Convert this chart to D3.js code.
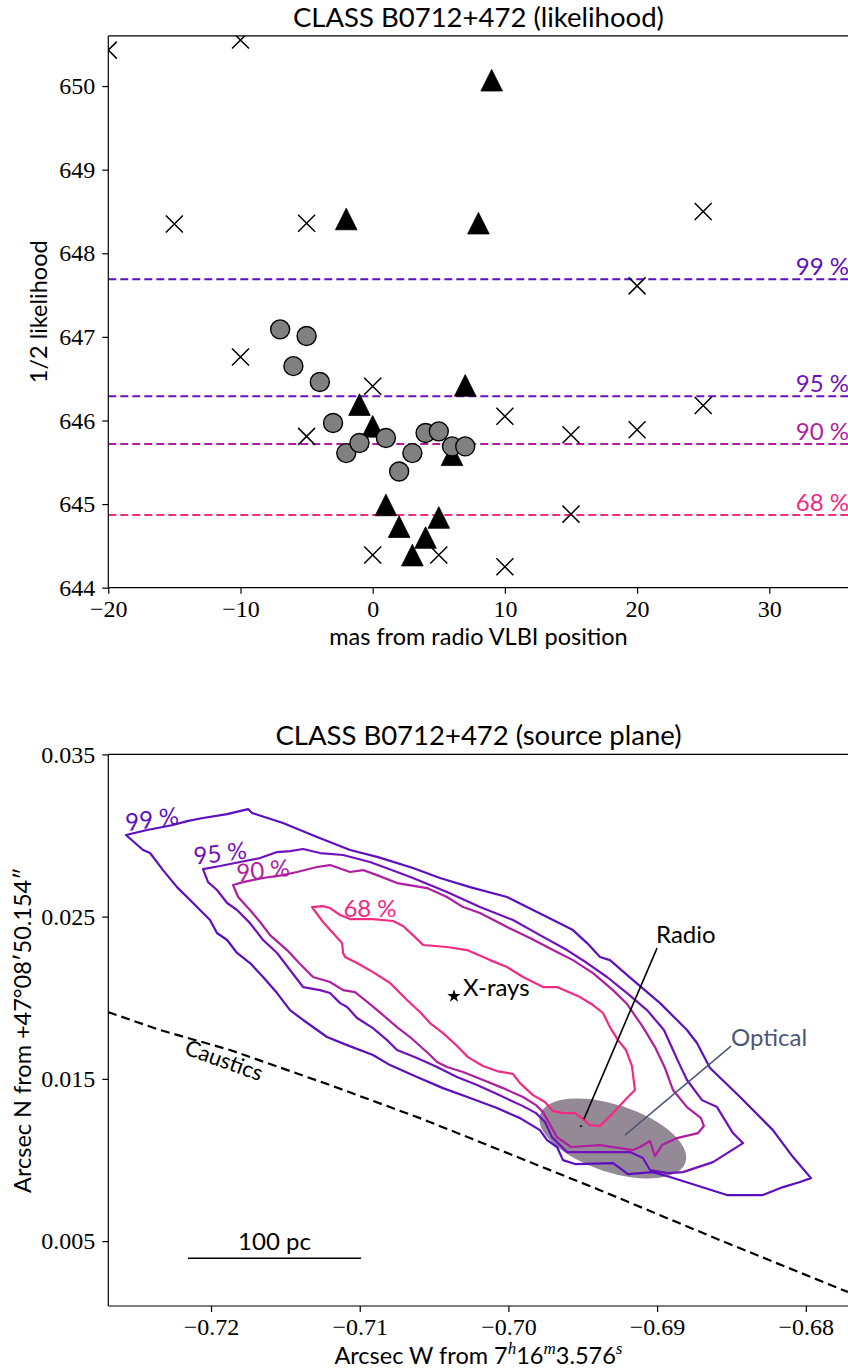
<!DOCTYPE html>
<html>
<head>
<meta charset="utf-8" />
<title>CLASS B0712+472</title>
<script src="https://cdn.jsdelivr.net/npm/d3@7"></script>
<style>
  body { margin: 0; background: #fff; }
  svg { display: block; }
  .sans { font-family: Lato, "Noto Sans", sans-serif; }
  .tick line { stroke: #000; stroke-width: 1.2px; }
</style>
</head>
<body>
<svg id="fig" width="848" height="1372"></svg>
<script>
// ---------- top panel: likelihood vs offset ----------
var crossPts = [[-20, 650.43], [-10, 650.55], [-15, 648.35], [-5, 648.36], [25, 648.50], [20, 647.61],
    [-10, 646.76], [0, 646.41], [-5, 645.81], [0, 644.39], [10, 646.05], [15, 645.83], [20, 645.89],
    [25, 646.18], [15, 644.88], [5, 644.39], [10, 644.25]];
var trianglePts = [[-2, 648.41], [9, 650.07], [8, 648.36], [-1, 646.19], [0, 645.93], [1, 644.99],
    [2, 644.73], [3, 644.39], [4, 644.60], [5, 644.84], [6, 645.59], [7, 646.42]];
var circlePts = [[-7, 647.09], [-5, 647.01], [-6, 646.65], [-4, 646.46], [-3, 645.97], [-2, 645.61],
    [-1, 645.73], [1, 645.79], [2, 645.39], [3, 645.61], [4, 645.85], [5, 645.87], [6, 645.69], [7, 645.69]];
var levelNames = ["68 %", "90 %", "95 %", "99 %"];
var levelLike = [644.87, 645.72, 646.29, 647.69];
var levelColors = ["#f22a82", "#b01ea0", "#7011bd", "#5b0fbf"];
var xTicks1 = [-20, -10, 0, 10, 20, 30];
var yTicks1 = [644, 645, 646, 647, 648, 649, 650];

// ---------- bottom panel: source plane contours ----------
var contour99 = [[-0.72572,0.03003],[-0.72430,0.03034],[-0.72256,0.03065],[-0.72161,0.03089],[-0.72054,0.03108],[-0.71892,0.03132],[-0.71751,0.03163],[-0.71724,0.03139],[-0.71516,0.03077],[-0.71287,0.02991],[-0.71065,0.02911],[-0.70877,0.02867],[-0.70642,0.02800],[-0.70460,0.02738],[-0.70258,0.02682],[-0.70009,0.02621],[-0.69875,0.02559],[-0.69673,0.02467],[-0.69566,0.02417],[-0.69471,0.02337],[-0.69384,0.02251],[-0.69317,0.02232],[-0.69162,0.02109],[-0.68980,0.01967],[-0.68880,0.01875],[-0.68799,0.01801],[-0.68732,0.01721],[-0.68644,0.01567],[-0.68442,0.01388],[-0.68221,0.01184],[-0.68086,0.01018],[-0.67965,0.00888],[-0.68039,0.00864],[-0.68153,0.00833],[-0.68288,0.00784],[-0.68530,0.00784],[-0.68913,0.00895],[-0.69028,0.00925],[-0.69196,0.00913],[-0.69250,0.00950],[-0.69297,0.00981],[-0.69552,0.00975],[-0.69633,0.00999],[-0.69673,0.01080],[-0.69740,0.01123],[-0.69788,0.01184],[-0.69922,0.01258],[-0.70077,0.01320],[-0.70258,0.01382],[-0.70440,0.01443],[-0.70615,0.01511],[-0.70796,0.01585],[-0.70911,0.01647],[-0.71085,0.01708],[-0.71220,0.01758],[-0.71381,0.01863],[-0.71469,0.01924],[-0.71556,0.02029],[-0.71650,0.02128],[-0.71738,0.02214],[-0.71825,0.02276],[-0.71892,0.02356],[-0.71960,0.02399],[-0.72007,0.02479],[-0.72141,0.02602],[-0.72229,0.02682],[-0.72323,0.02787],[-0.72410,0.02892],[-0.72457,0.02911]];
var contour95 = [[-0.72054,0.02793],[-0.71939,0.02812],[-0.71805,0.02837],[-0.71670,0.02861],[-0.71556,0.02898],[-0.71469,0.02904],[-0.71381,0.02917],[-0.71267,0.02892],[-0.71112,0.02880],[-0.70931,0.02837],[-0.70749,0.02775],[-0.70642,0.02738],[-0.70413,0.02652],[-0.70191,0.02559],[-0.69969,0.02479],[-0.69788,0.02386],[-0.69606,0.02294],[-0.69471,0.02214],[-0.69337,0.02128],[-0.69202,0.02029],[-0.69068,0.01924],[-0.68954,0.01801],[-0.68893,0.01678],[-0.68853,0.01597],[-0.68799,0.01493],[-0.68698,0.01369],[-0.68597,0.01326],[-0.68490,0.01166],[-0.68422,0.01104],[-0.68624,0.00987],[-0.68826,0.00925],[-0.68927,0.00919],[-0.69048,0.00938],[-0.69095,0.01012],[-0.69182,0.01049],[-0.69606,0.01049],[-0.69707,0.01141],[-0.69754,0.01234],[-0.69814,0.01289],[-0.69902,0.01332],[-0.70077,0.01406],[-0.70211,0.01462],[-0.70346,0.01511],[-0.70480,0.01573],[-0.70615,0.01628],[-0.70749,0.01678],[-0.70816,0.01739],[-0.70911,0.01813],[-0.71018,0.01875],[-0.71085,0.01943],[-0.71132,0.01967],[-0.71200,0.02029],[-0.71267,0.02047],[-0.71381,0.02066],[-0.71469,0.02171],[-0.71556,0.02276],[-0.71650,0.02356],[-0.71738,0.02460],[-0.71825,0.02541],[-0.71892,0.02584],[-0.71960,0.02664],[-0.72020,0.02713]];
var contour90 = [[-0.71852,0.02695],[-0.71785,0.02713],[-0.71650,0.02738],[-0.71516,0.02756],[-0.71422,0.02775],[-0.71287,0.02806],[-0.71200,0.02818],[-0.71065,0.02775],[-0.70978,0.02787],[-0.70884,0.02756],[-0.70749,0.02707],[-0.70547,0.02676],[-0.70413,0.02621],[-0.70305,0.02559],[-0.70191,0.02522],[-0.70009,0.02436],[-0.69855,0.02368],[-0.69700,0.02294],[-0.69566,0.02232],[-0.69431,0.02152],[-0.69297,0.02047],[-0.69202,0.01961],[-0.69095,0.01819],[-0.69014,0.01696],[-0.68947,0.01567],[-0.68893,0.01431],[-0.68799,0.01326],[-0.68705,0.01258],[-0.68685,0.01209],[-0.68725,0.01166],[-0.68866,0.01135],[-0.68967,0.01092],[-0.69014,0.01024],[-0.69048,0.01117],[-0.69115,0.01080],[-0.69162,0.01061],[-0.69384,0.01092],[-0.69579,0.01080],[-0.69673,0.01141],[-0.69767,0.01295],[-0.69814,0.01338],[-0.69902,0.01388],[-0.70036,0.01443],[-0.70171,0.01493],[-0.70305,0.01542],[-0.70413,0.01573],[-0.70480,0.01604],[-0.70527,0.01647],[-0.70662,0.01758],[-0.70749,0.01819],[-0.70843,0.01893],[-0.70931,0.01961],[-0.71032,0.02035],[-0.71112,0.02047],[-0.71200,0.02097],[-0.71314,0.02128],[-0.71401,0.02208],[-0.71489,0.02294],[-0.71603,0.02386],[-0.71670,0.02467],[-0.71738,0.02541],[-0.71818,0.02621]];
var contour68 = [[-0.71321,0.02559],[-0.71247,0.02565],[-0.71200,0.02553],[-0.71132,0.02510],[-0.71065,0.02485],[-0.70911,0.02485],[-0.70776,0.02473],[-0.70709,0.02442],[-0.70642,0.02386],[-0.70574,0.02325],[-0.70413,0.02313],[-0.70278,0.02294],[-0.70124,0.02232],[-0.70009,0.02189],[-0.69902,0.02128],[-0.69767,0.02066],[-0.69673,0.02066],[-0.69518,0.02004],[-0.69431,0.01955],[-0.69364,0.01906],[-0.69317,0.01819],[-0.69263,0.01739],[-0.69209,0.01678],[-0.69169,0.01579],[-0.69149,0.01431],[-0.69196,0.01388],[-0.69297,0.01289],[-0.69384,0.01209],[-0.69451,0.01215],[-0.69498,0.01252],[-0.69552,0.01289],[-0.69633,0.01289],[-0.69700,0.01301],[-0.69754,0.01357],[-0.69835,0.01400],[-0.69922,0.01474],[-0.69969,0.01530],[-0.70077,0.01548],[-0.70171,0.01579],[-0.70272,0.01634],[-0.70359,0.01715],[-0.70440,0.01782],[-0.70527,0.01844],[-0.70595,0.01912],[-0.70682,0.01986],[-0.70796,0.02091],[-0.70911,0.02158],[-0.71018,0.02214],[-0.71099,0.02251],[-0.71112,0.02276],[-0.71119,0.02337],[-0.71180,0.02399],[-0.71247,0.02467]];
var contours = [contour68, contour90, contour95, contour99];
// contour label anchor [x, y] and rotation (deg)
var contourLabelPos = [[-0.70931, 0.02553], [-0.71650, 0.02787], [-0.71939, 0.02892], [-0.72397, 0.03102]];
var contourLabelRot = [0, -6, -7, -8];

var causticPts = [[-0.72693,0.01912],[-0.72343,0.01801],[-0.71872,0.01678],[-0.71200,0.01462],[-0.70595,0.01258],[-0.70258,0.01135],[-0.69384,0.00814],[-0.68577,0.00506],[-0.67716,0.00186]];
var xrayPos = [-0.70366, 0.02010];
var radioPos = [-0.69512, 0.01209];
var radioArrowEnd = [-0.69492, 0.01252];
var radioTextPos = [-0.69007, 0.02337];
var opticalArrowEnd = [-0.69216, 0.01153];
var opticalTextPos = [-0.68503, 0.01702];
var opticalEllipse = {cx: -0.69298, cy: 0.01133, rx: 0.005145, ry: 0.002078, angle: 18.3};
var scaleBar = [-0.72155, -0.70991, 0.00395];
var xTicks2 = [-0.72, -0.71, -0.70, -0.69, -0.68];
var yTicks2 = [0.005, 0.015, 0.025, 0.035];

var svg = d3.select("#fig");
var LW = 1.2;

function frame(box, id) {
    svg.append("clipPath").attr("id", id).append("rect")
        .attr("x", box.left).attr("y", box.top)
        .attr("width", box.right - box.left).attr("height", box.bottom - box.top);
    // spines (right spine falls just off the canvas)
    svg.append("line").attr("x1", box.left).attr("x2", box.left).attr("y1", box.top).attr("y2", box.bottom)
        .attr("stroke", "#000").attr("stroke-width", LW);
    svg.append("line").attr("x1", box.left).attr("x2", box.right).attr("y1", box.bottom).attr("y2", box.bottom)
        .attr("stroke", "#000").attr("stroke-width", LW);
    svg.append("line").attr("x1", box.left).attr("x2", box.right).attr("y1", box.top).attr("y2", box.top)
        .attr("stroke", "#000").attr("stroke-width", LW);
}

function serifTicks(g) {
    g.select(".domain").remove();
    g.attr("font-family", null).attr("font-size", null);
    g.selectAll(".tick text")
        .attr("font-family", "'Liberation Serif', 'DejaVu Serif', serif")
        .attr("font-size", 24).attr("fill", "#000");
}

function axes(box, x, y, xt, yt, xf, yf) {
    svg.append("g").attr("transform", "translate(0," + box.bottom + ")")
        .call(d3.axisBottom(x).tickValues(xt).tickSize(6).tickPadding(6).tickSizeOuter(0).tickFormat(xf))
        .call(serifTicks);
    svg.append("g").attr("transform", "translate(" + box.left + ",0)")
        .call(d3.axisLeft(y).tickValues(yt).tickSize(6).tickPadding(7).tickSizeOuter(0).tickFormat(yf))
        .call(serifTicks);
}

// ===== top panel =====
var box1 = {left: 108.3, right: 848.6, top: 35.9, bottom: 587.7};
var x1 = d3.scaleLinear().domain([-20, 36]).range([box1.left, box1.right]);
var y1 = d3.scaleLinear().domain([644, 650.6]).range([box1.bottom, box1.top]);

var g1 = svg.append("g").attr("clip-path", "url(#clip1)");

levelLike.forEach(function(v, i) {
    g1.append("line")
        .attr("x1", box1.left).attr("x2", box1.right)
        .attr("y1", y1(v)).attr("y2", y1(v))
        .attr("stroke", levelColors[i]).attr("stroke-width", 2)
        .attr("stroke-dasharray", "8,4");
});

g1.selectAll("path.cross").data(crossPts).enter().append("path")
    .attr("class", "cross")
    .attr("d", "M-8.5,-8.5L8.5,8.5M-8.5,8.5L8.5,-8.5")
    .attr("transform", function(d) { return "translate(" + x1(d[0]) + "," + y1(d[1]) + ")"; })
    .attr("stroke", "#000").attr("stroke-width", 1.5).attr("fill", "none");

g1.selectAll("path.tri").data(trianglePts).enter().append("path")
    .attr("class", "tri")
    .attr("d", "M0,-10.8L10.8,10.8L-10.8,10.8Z")
    .attr("transform", function(d) { return "translate(" + x1(d[0]) + "," + y1(d[1]) + ")"; })
    .attr("fill", "#000").attr("stroke", "#000").attr("stroke-width", 0.8);

g1.selectAll("circle").data(circlePts).enter().append("circle")
    .attr("cx", function(d) { return x1(d[0]); })
    .attr("cy", function(d) { return y1(d[1]); })
    .attr("r", 9.5)
    .attr("fill", "#808080").attr("stroke", "#000").attr("stroke-width", 1.4);

levelLike.forEach(function(v, i) {
    svg.append("text").attr("class", "sans")
        .attr("x", 849).attr("y", y1(v) - 4)
        .attr("text-anchor", "end")
        .style("font-size", "24px").attr("fill", levelColors[i])
        .text(levelNames[i]);
});

frame(box1, "clip1");
axes(box1, x1, y1, xTicks1, yTicks1, d3.format("d"), d3.format("d"));

svg.append("text").attr("class", "sans")
    .attr("x", (box1.left + box1.right) / 2).attr("y", 27)
    .attr("text-anchor", "middle").style("font-size", "27.5px")
    .text("CLASS B0712+472 (likelihood)");
svg.append("text").attr("class", "sans")
    .attr("x", (box1.left + box1.right) / 2).attr("y", 645)
    .attr("text-anchor", "middle").style("font-size", "23.5px")
    .text("mas from radio VLBI position");
svg.append("text").attr("class", "sans")
    .attr("transform", "translate(47," + (box1.top + box1.bottom) / 2 + ") rotate(-90)")
    .attr("text-anchor", "middle").style("font-size", "23.5px")
    .text("1/2 likelihood");

// ===== bottom panel =====
var box2 = {left: 108.3, right: 848.6, top: 754.4, bottom: 1306};
var x2 = d3.scaleLinear().domain([-0.72691, -0.67712]).range([box2.left, box2.right]);
var y2 = d3.scaleLinear().domain([0.001, 0.035]).range([box2.bottom, box2.top]);

var g2 = svg.append("g").attr("clip-path", "url(#clip2)");

// optical ellipse
var ecx = x2(opticalEllipse.cx), ecy = y2(opticalEllipse.cy);
g2.append("ellipse")
    .attr("cx", ecx).attr("cy", ecy)
    .attr("rx", x2(opticalEllipse.cx + opticalEllipse.rx) - ecx)
    .attr("ry", ecy - y2(opticalEllipse.cy + opticalEllipse.ry))
    .attr("transform", "rotate(" + opticalEllipse.angle + "," + ecx + "," + ecy + ")")
    .attr("fill", "#948a95");

var line2 = d3.line().x(function(d) { return x2(d[0]); }).y(function(d) { return y2(d[1]); });

g2.append("path").attr("d", line2(causticPts))
    .attr("fill", "none").attr("stroke", "#000").attr("stroke-width", 2.2)
    .attr("stroke-dasharray", "9,5");

var contourLine = d3.line().curve(d3.curveLinearClosed)
    .x(function(d) { return x2(d[0]); }).y(function(d) { return y2(d[1]); });
contours.forEach(function(c, i) {
    g2.append("path").attr("d", contourLine(c))
        .attr("fill", "none").attr("stroke", levelColors[i]).attr("stroke-width", 2.2)
        .attr("stroke-linejoin", "round");
});

contourLabelPos.forEach(function(p, i) {
    var px = x2(p[0]), py = y2(p[1]);
    svg.append("text").attr("class", "sans")
        .attr("transform", "translate(" + px + "," + py + ") rotate(" + contourLabelRot[i] + ")")
        .attr("text-anchor", "middle").attr("dy", "0.36em")
        .style("font-size", "24px").attr("fill", levelColors[i])
        .text(levelNames[i]);
});

// X-rays
g2.append("path")
    .attr("d", d3.symbol(d3.symbolStar).size(55)())
    .attr("transform", "translate(" + x2(xrayPos[0]) + "," + y2(xrayPos[1]) + ")")
    .attr("fill", "#000");
svg.append("text").attr("class", "sans")
    .attr("x", x2(xrayPos[0]) + 9).attr("y", y2(xrayPos[1]))
    .style("font-size", "24px").text("X-rays");

// Radio
g2.append("circle").attr("cx", x2(radioPos[0])).attr("cy", y2(radioPos[1])).attr("r", 1.2).attr("fill", "#222");
g2.append("line")
    .attr("x1", x2(radioArrowEnd[0])).attr("y1", y2(radioArrowEnd[1]))
    .attr("x2", x2(radioTextPos[0]) + 1).attr("y2", y2(radioTextPos[1]) + 5)
    .attr("stroke", "#000").attr("stroke-width", 1.6);
svg.append("text").attr("class", "sans")
    .attr("x", x2(radioTextPos[0])).attr("y", y2(radioTextPos[1]))
    .style("font-size", "24px").text("Radio");

// Optical
g2.append("line")
    .attr("x1", x2(opticalArrowEnd[0])).attr("y1", y2(opticalArrowEnd[1]))
    .attr("x2", x2(opticalTextPos[0])).attr("y2", y2(opticalTextPos[1]))
    .attr("stroke", "#4d5675").attr("stroke-width", 1.5);
svg.append("text").attr("class", "sans")
    .attr("x", x2(opticalTextPos[0])).attr("y", y2(opticalTextPos[1]))
    .style("font-size", "24px").attr("fill", "#4d5675").text("Optical");

// Caustics label
var cl = [-0.71913, 0.01616];
svg.append("text").attr("class", "sans")
    .attr("transform", "translate(" + x2(cl[0]) + "," + y2(cl[1]) + ") rotate(20)")
    .attr("text-anchor", "middle").attr("dy", "0.36em")
    .style("font-size", "22px").text("Caustics");

// scale bar
svg.append("line")
    .attr("x1", x2(scaleBar[0])).attr("x2", x2(scaleBar[1]))
    .attr("y1", y2(scaleBar[2])).attr("y2", y2(scaleBar[2]))
    .attr("stroke", "#000").attr("stroke-width", 1.5);
svg.append("text").attr("class", "sans")
    .attr("x", (x2(scaleBar[0]) + x2(scaleBar[1])) / 2).attr("y", y2(scaleBar[2]) - 8)
    .attr("text-anchor", "middle").style("font-size", "24px").text("100 pc");

frame(box2, "clip2");
axes(box2, x2, y2, xTicks2, yTicks2, d3.format(".2f"), d3.format(".3f"));

svg.append("text").attr("class", "sans")
    .attr("x", (box2.left + box2.right) / 2).attr("y", 745)
    .attr("text-anchor", "middle").style("font-size", "27.5px")
    .text("CLASS B0712+472 (source plane)");

var xl = svg.append("text").attr("class", "sans")
    .attr("x", (box2.left + box2.right) / 2).attr("y", 1364)
    .attr("text-anchor", "middle").style("font-size", "23.5px");
xl.append("tspan").text("Arcsec W from 7");
xl.append("tspan").attr("dy", -10).style("font-family", "'Liberation Serif', serif").style("font-style", "italic").style("font-size", "17px").text("h");
xl.append("tspan").attr("dy", 10).text("16");
xl.append("tspan").attr("dy", -10).style("font-family", "'Liberation Serif', serif").style("font-style", "italic").style("font-size", "17px").text("m");
xl.append("tspan").attr("dy", 10).text("3.576");
xl.append("tspan").attr("dy", -10).style("font-family", "'Liberation Serif', serif").style("font-style", "italic").style("font-size", "17px").text("s");

svg.append("text").attr("class", "sans")
    .attr("transform", "translate(31," + (box2.top + box2.bottom) / 2 + ") rotate(-90)")
    .attr("text-anchor", "middle").style("font-size", "23.5px")
    .text("Arcsec N from +47°08′50.154″");
</script>
</body>
</html>
